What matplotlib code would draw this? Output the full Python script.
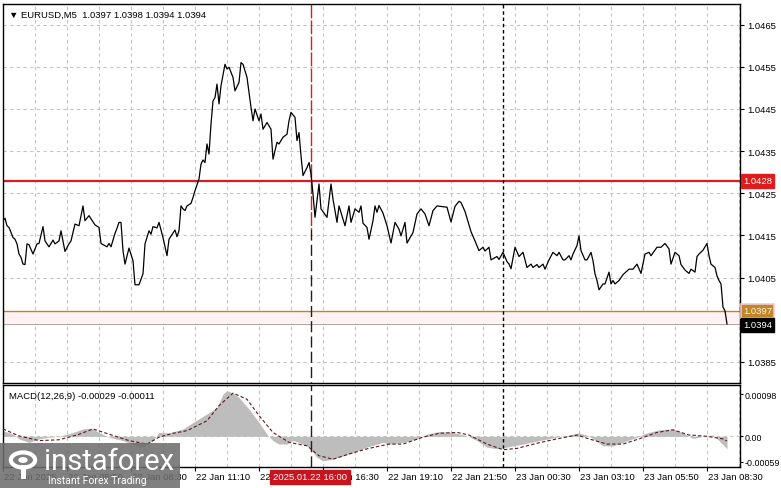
import matplotlib
matplotlib.use("Agg")
import matplotlib.pyplot as plt
from matplotlib.patches import Rectangle, Circle
from matplotlib.transforms import blended_transform_factory

# ---------------- data ----------------
price_bars = [
    0, 1, 2, 3, 5, 6, 7, 8, 9, 10,
    11, 12, 13, 15, 17, 18, 20, 21, 23, 25,
    26, 28, 29, 31, 33, 34, 36, 38, 40, 41,
    43, 46, 48, 49, 52, 53, 54, 56, 57, 58,
    59, 60, 61, 63, 65, 66, 68, 70, 71, 73,
    74, 75, 77, 78, 80, 82, 83, 86, 87, 88,
    89, 90, 91, 92, 94, 95, 96, 98, 99, 100,
    101, 102, 103, 104, 105, 106, 107, 108, 109, 111,
    112, 113, 115, 116, 118, 119, 120, 122, 124, 125,
    126, 128, 129, 130, 132, 134, 135, 137, 138, 140,
    142, 143, 144, 146, 147, 148, 149, 150, 152, 153,
    154, 155, 156, 158, 159, 162, 164, 165, 167, 168,
    171, 173, 174, 176, 178, 179, 180, 182, 183, 185,
    186, 187, 188, 190, 192, 194, 196, 198, 199, 201,
    202, 204, 205, 207, 209, 211, 213, 215, 217, 222,
    224, 226, 228, 229, 231, 234, 236, 238, 240, 241,
    243, 244, 247, 248, 250, 252, 253, 254, 256, 258,
    260, 262, 264, 265, 267, 268, 270, 271, 273, 275,
    277, 278, 280, 281, 283, 284, 285, 287, 288, 289,
    291, 292, 294, 295, 296, 297, 298, 300, 301, 303,
    304, 305, 306, 308, 310, 313, 315, 317, 319, 321,
    323, 324, 327, 329, 331, 333, 334, 336, 338, 339,
    341, 343, 344, 346, 347, 348, 350, 352, 353, 354,
    356, 357, 358, 359, 360, 361, 362,
]
price_close = [
    1.04185, 1.04191, 1.04173, 1.04169, 1.04145, 1.04141, 1.04130, 1.04106, 1.04098, 1.04082,
    1.04081, 1.04130, 1.04128, 1.04106, 1.04130, 1.04131, 1.04171, 1.04137, 1.04123, 1.04139,
    1.04130, 1.04137, 1.04161, 1.04112, 1.04130, 1.04137, 1.04177, 1.04173, 1.04220, 1.04185,
    1.04197, 1.04175, 1.04169, 1.04131, 1.04123, 1.04131, 1.04123, 1.04155, 1.04167, 1.04181,
    1.04181, 1.04114, 1.04082, 1.04120, 1.04090, 1.04033, 1.04033, 1.04059, 1.04130, 1.04161,
    1.04153, 1.04171, 1.04168, 1.04181, 1.04145, 1.04102, 1.04141, 1.04163, 1.04147, 1.04161,
    1.04220, 1.04213, 1.04209, 1.04220, 1.04226, 1.04240, 1.04256, 1.04284, 1.04319, 1.04329,
    1.04323, 1.04367, 1.04343, 1.04414, 1.04469, 1.04477, 1.04509, 1.04462, 1.04505, 1.04556,
    1.04545, 1.04549, 1.04525, 1.04493, 1.04513, 1.04560, 1.04556, 1.04525, 1.04454, 1.04422,
    1.04450, 1.04422, 1.04438, 1.04402, 1.04418, 1.04402, 1.04331, 1.04371, 1.04367, 1.04383,
    1.04390, 1.04422, 1.04442, 1.04430, 1.04375, 1.04394, 1.04339, 1.04292, 1.04311, 1.04323,
    1.04296, 1.04248, 1.04193, 1.04272, 1.04213, 1.04193, 1.04272, 1.04236, 1.04181, 1.04220,
    1.04173, 1.04220, 1.04181, 1.04213, 1.04205, 1.04220, 1.04179, 1.04169, 1.04141, 1.04185,
    1.04220, 1.04205, 1.04221, 1.04203, 1.04173, 1.04132, 1.04181, 1.04165, 1.04149, 1.04181,
    1.04132, 1.04149, 1.04157, 1.04201, 1.04213, 1.04201, 1.04173, 1.04209, 1.04220, 1.04217,
    1.04182, 1.04219, 1.04231, 1.04228, 1.04207, 1.04159, 1.04137, 1.04114, 1.04122, 1.04113,
    1.04122, 1.04092, 1.04100, 1.04093, 1.04110, 1.04088, 1.04082, 1.04071, 1.04122, 1.04100,
    1.04110, 1.04074, 1.04082, 1.04074, 1.04081, 1.04074, 1.04082, 1.04070, 1.04092, 1.04110,
    1.04102, 1.04110, 1.04092, 1.04092, 1.04102, 1.04092, 1.04106, 1.04126, 1.04149, 1.04114,
    1.04092, 1.04092, 1.04110, 1.04090, 1.04059, 1.04043, 1.04021, 1.04035, 1.04035, 1.04063,
    1.04035, 1.04043, 1.04035, 1.04043, 1.04057, 1.04070, 1.04070, 1.04082, 1.04060, 1.04106,
    1.04110, 1.04102, 1.04122, 1.04122, 1.04131, 1.04118, 1.04082, 1.04110, 1.04102, 1.04081,
    1.04068, 1.04060, 1.04070, 1.04063, 1.04100, 1.04106, 1.04115, 1.04131, 1.04102, 1.04082,
    1.04074, 1.04054, 1.04043, 1.04035, 1.03980, 1.03971, 1.03940,
]

macd_hist_bars = [0, 5, 8, 13, 18, 23, 28, 35, 40, 44, 48, 53, 60, 67, 70, 75, 78, 83, 90, 95,
                  102, 107, 110, 112, 115, 118, 123, 128, 132, 135, 138, 142, 145, 148, 153,
                  157, 160, 165, 173, 182, 190, 193, 200, 207, 212, 218, 225, 232, 237, 242,
                  247, 252, 260, 268, 277, 283, 288, 293, 300, 305, 310, 317, 322, 328, 335,
                  340, 345, 350, 355, 358, 362]
macd_hist = [0.00013, 0.00005, -0.00006, -0.00014, -0.00006, -0.00002, 0.0, 0.00009, 0.00017,
             0.00019, 0.00009, -0.00002, -0.00010, -0.00022, -0.00025, -0.00010, 0.00009,
             0.00008, 0.00017, 0.00032, 0.00052, 0.00067, 0.00098, 0.00106, 0.00100, 0.00090,
             0.00063, 0.00032, 0.00005, -0.00010, -0.00018, -0.00018, -0.00010, -0.00014,
             -0.00025, -0.00049, -0.00057, -0.00053, -0.00041, -0.00025, -0.00014, -0.00018,
             -0.00014, -0.00006, 0.00005, 0.00011, 0.00009, 0.00001, -0.00010, -0.00025,
             -0.00029, -0.00025, -0.00018, -0.00010, -0.00002, 0.00003, 0.00008, 0.00001,
             -0.00022, -0.00022, -0.00014, -0.00002, 0.00008, 0.00015, 0.00017, 0.00008,
             -0.00005, 0.0, 0.00003, -0.00010, -0.00029]

signal_bars = [0, 8, 18, 28, 37, 45, 53, 63, 72, 78, 85, 92, 102, 108, 115, 122, 128, 135,
               143, 152, 158, 165, 173, 182, 193, 200, 210, 218, 227, 233, 242, 250, 257,
               267, 277, 287, 293, 302, 310, 318, 327, 335, 343, 352, 360, 362]
signal = [0.00017, 0.00001, -0.00010, -0.00008, 0.00003, 0.00017, 0.00005, -0.00010, -0.00018,
          -0.00002, 0.00007, 0.00013, 0.00036, 0.00071, 0.00100, 0.00086, 0.00048, 0.00009,
          -0.00014, -0.00022, -0.00045, -0.00053, -0.00041, -0.00029, -0.00018, -0.00018,
          -0.00002, 0.00007, 0.00009, 0.00003, -0.00018, -0.00031, -0.00028, -0.00016,
          -0.00006, 0.00003, -0.00006, -0.00018, -0.00018, -0.00006, 0.00009, 0.00015,
          0.00003, 0.0, -0.00006, -0.00011]

tick_bars = [0, 32, 64, 96, 128, 160, 192, 224, 256, 288, 320, 352]
tick_labels = ["22 Jan 2025", "22 Jan 05:50", "22 Jan 08:30", "22 Jan 11:10", "22 Jan 13:50",
               "22 Jan 16:30", "22 Jan 19:10", "22 Jan 21:50", "23 Jan 00:30", "23 Jan 03:10",
               "23 Jan 05:50", "23 Jan 08:30"]
price_ticks = [1.0385, 1.0395, 1.0405, 1.0415, 1.0425, 1.0435, 1.0445, 1.0455, 1.0465]
price_tick_labels = ["1.0385", "", "1.0405", "1.0415", "1.0425", "1.0435", "1.0445", "1.0455", "1.0465"]
macd_ticks = [-0.00059, 0.0, 0.00098]
macd_tick_labels = ["-0.00059", "0.00", "0.00098"]

resistance = 1.0428
support = 1.0397
bid = 1.0394
event_bar = 154
event_label = "2025.01.22 16:00"
day_sep_bar = 250
title = "EURUSD,M5  1.0397 1.0398 1.0394 1.0394"
macd_title = "MACD(12,26,9) -0.00029 -0.00011"

# ---------------- layout ----------------
W, H = 781, 489
plt.rcParams['font.family'] = ['Liberation Sans', 'DejaVu Sans']
fig = plt.figure(figsize=(W / 100, H / 100), dpi=100)
fig.patch.set_facecolor('white')

def fx(x):
    return x / W

def fy(y):
    return 1 - y / H

ax = fig.add_axes([fx(3), fy(384), (740 - 3) / W, (384 - 5) / H])
axm = fig.add_axes([fx(3), fy(468), (740 - 3) / W, (468 - 386) / H])

XMAX = 368.5
FS = 6.8
grid_kw = dict(color='#c4c4c4', lw=0.8, linestyle=(0, (3, 3)), zorder=0)

for a in (ax, axm):
    a.set_xlim(0, XMAX)
    for s in a.spines.values():
        s.set_color('black')
        s.set_linewidth(1.0)
    for b in range(16, 369, 16):
        a.axvline(b, **grid_kw)

# main panel
ax.set_ylim(1.03800, 1.04699)
for p in price_ticks:
    ax.axhline(p, **grid_kw)
ax.axhspan(bid + 0.00002, support, color='#fdf1f1', zorder=0.5, lw=0)
ax.axhline(resistance, color='#d81e1e', lw=1.6, zorder=2)
ax.axhline(support, color='#b8862e', lw=1.0, zorder=2)
ax.axhline(bid, color='#a8a8a8', lw=0.8, zorder=2)
ax.plot(price_bars, price_close, color='black', lw=0.9, zorder=3)

# event line (red top, dark bottom)
ax.plot([event_bar, event_bar], [1.04699, 1.04165], color='#d81e1e', lw=1.0,
        linestyle=(0, (10, 1.5)), zorder=2.5)
ax.plot([event_bar, event_bar], [1.04165, 1.03800], color='#2a1a1a', lw=1.0,
        linestyle=(0, (8, 3)), zorder=2.5)
axm.axvline(event_bar, color='#2a1a1a', lw=1.0, linestyle=(0, (8, 3)), zorder=2.5)
for a in (ax, axm):
    a.axvline(day_sep_bar, color='black', lw=1.0, linestyle=(0, (2.5, 2)), zorder=2.5)

ax.yaxis.tick_right()
ax.set_yticks(price_ticks)
ax.set_yticklabels(price_tick_labels, fontsize=FS)
ax.tick_params(axis='y', direction='out', length=3, pad=2, width=0.8)
ax.set_xticks([])

ax.text(0.008, 0.985, "\u25BC " + title, transform=ax.transAxes, fontsize=FS,
        va='top', ha='left', family=['Liberation Sans', 'DejaVu Sans'])

# right-side value boxes
trR = blended_transform_factory(ax.transAxes, ax.transData)
ax.text(1.004, resistance, f"{resistance:.4f}", transform=trR, fontsize=FS, color='white',
        va='center', ha='left', zorder=10, clip_on=False,
        bbox=dict(boxstyle='square,pad=0.25', fc='#e01b1b', ec='#e01b1b'))
ax.text(1.004, support + 0.00001, f"{support:.4f}", transform=trR, fontsize=FS, color='#fff2d6',
        va='center', ha='left', zorder=10, clip_on=False,
        bbox=dict(boxstyle='square,pad=0.25', fc='#c0862a', ec='#f6c9d6', lw=1.2))
ax.text(1.004, bid - 0.00002, f"{bid:.4f}", transform=trR, fontsize=FS, color='white',
        va='center', ha='left', zorder=10, clip_on=False,
        bbox=dict(boxstyle='square,pad=0.25', fc='black', ec='black'))

# MACD panel
axm.set_ylim(-0.000711, 0.001189)
axm.axhline(0, **grid_kw)
axm.fill_between(macd_hist_bars, macd_hist, 0, color='#bdbdbd', lw=0, zorder=1)
axm.plot(signal_bars, signal, color='#5a1a1a', lw=0.8, linestyle=(0, (3, 2)), zorder=3)
axm.yaxis.tick_right()
axm.set_yticks(macd_ticks)
axm.set_yticklabels(macd_tick_labels, fontsize=6.4)
axm.tick_params(axis='y', direction='out', length=2.5, pad=1, width=0.8)
axm.set_xticks(tick_bars)
axm.set_xticklabels([])
axm.tick_params(axis='x', direction='out', length=3, width=0.8)
trX = blended_transform_factory(axm.transData, axm.transAxes)
for b, lab in zip(tick_bars, tick_labels):
    axm.text(b + 0.6, -0.12, lab, transform=trX, fontsize=FS, va='center', ha='left',
             clip_on=False)
axm.text(0.008, 0.93, macd_title, transform=axm.transAxes, fontsize=FS, va='top', ha='left')

# event date label box on time axis
axm.text(event_bar - 19, -0.12, event_label, transform=trX, fontsize=FS, color='white',
         va='center', ha='left', clip_on=False, zorder=20,
         bbox=dict(boxstyle='square,pad=0.3', fc='#c8141e', ec='#c8141e'))

# watermark
fig.patches.append(Rectangle((0, 0), fx(180), (489 - 444) / H,
                             transform=fig.transFigure, fc='#6e6e6e', ec='none', alpha=0.88,
                             zorder=30))
fig.patches.append(Circle((fx(23), fy(461)), 0.0155, transform=fig.transFigure, fc='none',
                          ec='white', lw=3.0, zorder=31))
fig.patches.append(Circle((fx(23), fy(461)), 0.006, transform=fig.transFigure, fc='white',
                          ec='none', zorder=31))
fig.patches.append(Rectangle((fx(20.5), fy(480)), fx(5), (480 - 466) / H,
                             transform=fig.transFigure, fc='white', ec='none', zorder=31))
fig.text(fx(44), fy(462), "instaforex", fontsize=21, color='white', va='center', ha='left',
         family=['Roboto', 'DejaVu Sans'], zorder=32)
fig.text(fx(48), fy(481.5), "Instant Forex Trading", fontsize=7.5, color='white', va='center',
         ha='left', family=['Roboto', 'DejaVu Sans'], zorder=32)

fig.savefig("out.png", dpi=100, facecolor='white')
